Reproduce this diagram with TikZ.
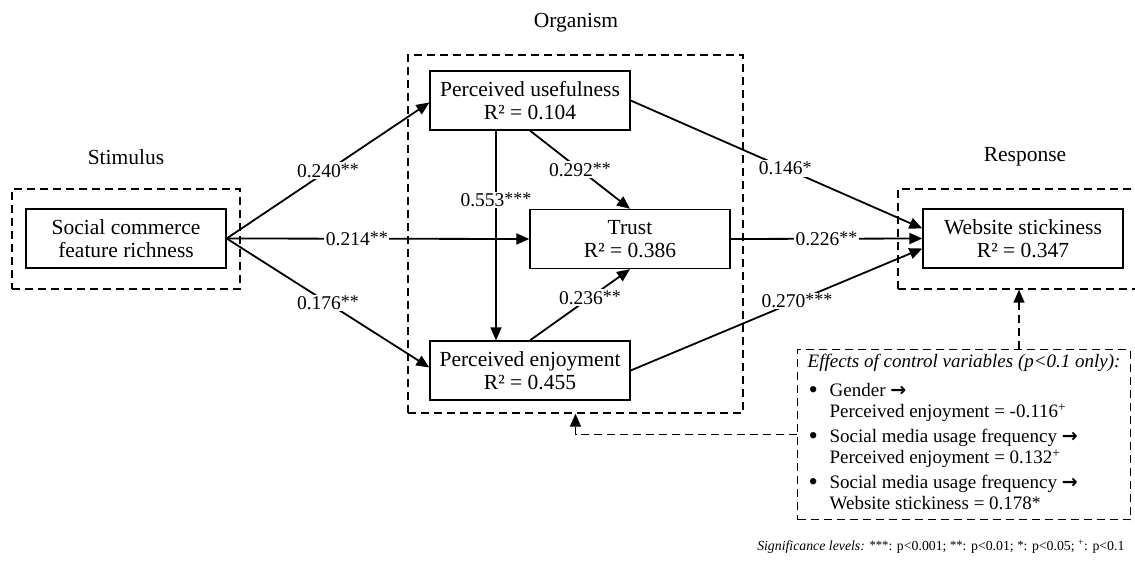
\documentclass[tikz,border=0pt]{standalone}
\usepackage{fontspec}
\setmainfont{Liberation Serif}
\newfontfamily\symfont{DejaVu Sans}
\usetikzlibrary{arrows.meta}
% significance stars (the serif asterisk already sits high)
\newcommand{\stars}[1]{\raisebox{0.08em}{\fontsize{0.92em}{1em}\selectfont #1}}
% arrow and bullet glyphs for the control-variable list
\newcommand{\toarrow}{{\symfont\bfseries\fontsize{1em}{1em}\selectfont →}}
\newcommand{\dotitem}{\hspace*{1pt}\raisebox{-0.08em}{\fontsize{1.4em}{1em}\selectfont •}}
\begin{document}
\begin{tikzpicture}[x=1pt,y=-1pt,
  varbox/.style={draw, line width=1.3pt, minimum width=200pt, minimum height=59pt,
    align=center, inner sep=2pt, font=\fontsize{21.5}{23.5}\selectfont},
  grpbox/.style={draw, line width=1.3pt, dash pattern=on 8pt off 5pt},
  grptitle/.style={font=\fontsize{21.5}{23.5}\selectfont},
  effect/.style={line width=1.8pt, -{Triangle[length=13pt,width=11pt]}},
  coef/.style={fill=white, inner sep=1.5pt, font=\fontsize{19.5}{22}\selectfont},
  ctrllink/.style={line width=1.3pt, dash pattern=on 8pt off 5pt,
    -{Triangle[length=13pt,width=11pt]}},
]
\useasboundingbox (0,0) rectangle (1135,561);

% S-O-R groups
\node[grptitle] (stimT) at (126,157) {Stimulus};
\node[grptitle] (orgT) at (576,23) {Organism};
\node[grptitle] (respT) at (1025,157) {Response};

\node[grpbox, minimum width=228pt, minimum height=100pt] (stim) at (126,239) {};
\node[grpbox, minimum width=335pt, minimum height=358pt] (org) at (575.5,234) {};
\begin{scope}
  \clip (0,0) rectangle (1135,561);
  \node[grpbox, minimum width=242pt, minimum height=100pt] (resp) at (1019,239) {};
\end{scope}

% constructs
\node[varbox] (sc) at (126,238.5) {Social commerce\\feature richness};
\node[varbox] (pu) at (530,100.5) {Perceived usefulness\\R² = 0.104};
\node[varbox] (tr) at (630,239) {Trust\\R² = 0.386};
\node[varbox] (pe) at (530,370.5) {Perceived enjoyment\\R² = 0.455};
\node[varbox] (ws) at (1023,238.5) {Website stickiness\\R² = 0.347};

% structural paths
\draw[effect] (sc.east) -- node[coef]{0.240\stars{**}} ([yshift=-2pt]pu.west);
\draw[effect] (sc.east) -- node[coef,pos=0.43]{0.214\stars{**}} (tr.west);
\draw[effect] (sc.east) -- node[coef]{0.176\stars{**}} ([yshift=3pt]pe.west);
\draw[effect] ([xshift=-34pt]pu.south) -- node[coef,pos=0.33]{0.553\stars{***}} ([xshift=-34pt]pe.north);
\draw[effect] (pu.south) -- node[coef]{0.292\stars{**}} (tr.north);
\draw[effect] (pe.north) -- node[coef,pos=0.6]{0.236\stars{**}} (tr.south);
\draw[effect] (pu.east) -- node[coef,pos=0.53]{0.146\stars{*}} ([yshift=10pt]ws.west);
\draw[effect] (tr.east) -- node[coef]{0.226\stars{**}} (ws.west);
\draw[effect] (pe.east) -- node[coef,pos=0.57]{0.270\stars{***}} ([yshift=-10pt]ws.west);

% control variables
\node[grpbox, anchor=north west, minimum width=321pt, minimum height=170pt,
      inner xsep=10pt, inner ysep=0pt, align=left,
      font=\fontsize{19}{21}\selectfont] (ctrl) at (797,349) {%
  \begin{tabular}{@{}p{22pt}@{}l@{}}
    \multicolumn{2}{@{}l@{}}{\textit{Effects of control variables (p<0.1 only):}}\\[8pt]
    \dotitem & Gender \toarrow\\
     & Perceived enjoyment = -0.116\textsuperscript{+}\\[4pt]
    \dotitem & Social media usage frequency \toarrow\\
     & Perceived enjoyment = 0.132\textsuperscript{+}\\[4pt]
    \dotitem & Social media usage frequency \toarrow\\
     & Website stickiness = 0.178\stars{*}
  \end{tabular}};

\draw[ctrllink] (ctrl.north -| resp.south) -- (resp.south);
\draw[ctrllink] (ctrl.west) -| (org.south);

% significance legend
\node[anchor=east, font=\fontsize{13.8}{16}\selectfont] (sig) at (1128,547)
  {\textit{Significance levels:} \stars{***}: p<0.001; \stars{**}: p<0.01; \stars{*}: p<0.05; \textsuperscript{+}: p<0.1};
\end{tikzpicture}
\end{document}
